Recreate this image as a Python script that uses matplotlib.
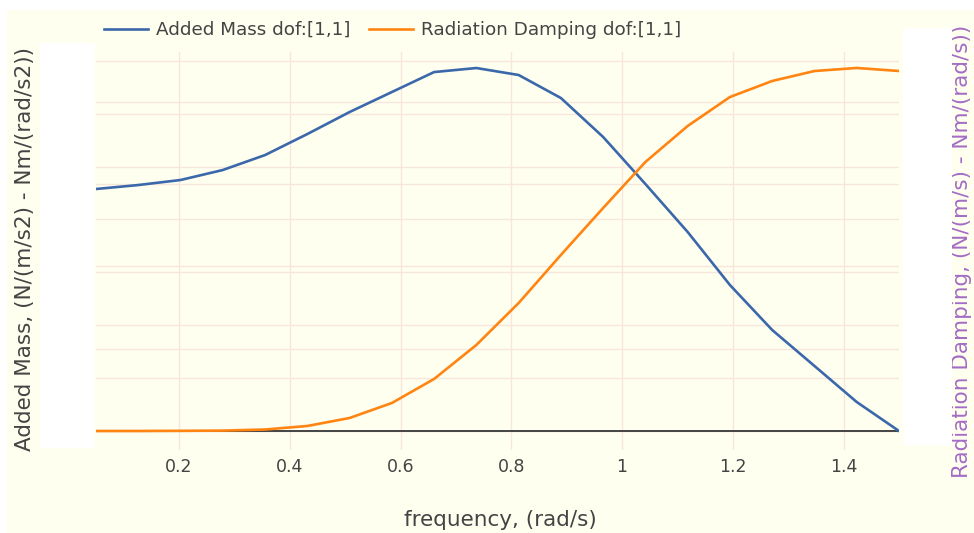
import matplotlib.pyplot as plt
from matplotlib.patches import Rectangle
from matplotlib.transforms import blended_transform_factory

# frequency (rad/s)
freq = [0.05, 0.1263, 0.2026, 0.2789, 0.3553, 0.4316, 0.5079, 0.5842, 0.6605, 0.7368,
        0.8132, 0.8895, 0.9658, 1.0421, 1.1184, 1.1947, 1.2711, 1.3474, 1.4237, 1.5]
# added mass dof [1,1] (left axis, arbitrary units)
added_mass = [4.575, 4.650, 4.745, 4.934, 5.217, 5.614, 6.030, 6.408, 6.786, 6.862,
              6.730, 6.295, 5.558, 4.669, 3.762, 2.760, 1.909, 1.229, 0.548, 0.0]
# radiation damping dof [1,1] (right axis, arbitrary units)
rad_damping = [0.0, 0.0, 0.002, 0.005, 0.018, 0.061, 0.158, 0.340, 0.632, 1.045,
               1.555, 2.139, 2.710, 3.269, 3.706, 4.058, 4.253, 4.374, 4.411, 4.374]
xticks = [0.2, 0.4, 0.6, 0.8, 1.0, 1.2, 1.4]
xtick_labels = ['0.2', '0.4', '0.6', '0.8', '1', '1.2', '1.4']
right_grid = [0, 1, 2, 3, 4]

W, H = 974, 533
bg = '#fffff0'
grid_c = '#f6e6dc'
txt_c = '#444444'

fig = plt.figure(figsize=(W / 100, H / 100), dpi=100, facecolor='white')
# ivory paper, leaving a thin white strip at top/left like the screenshot
fig.patches.append(Rectangle((7 / W, 0), 1, 1 - 10 / H, transform=fig.transFigure,
                             facecolor=bg, edgecolor='none', zorder=-5))

ax = fig.add_axes([96 / W, 83 / H, (899 - 96) / W, (450 - 52) / H])
ax.set_facecolor(bg)
ax2 = ax.twinx()

ax.set_xlim(0.05, 1.5)
ax.set_ylim(-0.359, 7.165)
ax2.set_ylim(-0.231, 4.605)

ax.set_yticks(range(0, 8))
ax2.set_yticks(right_grid)
ax.set_xticks(xticks)
ax.set_xticklabels(xtick_labels)
ax.grid(True, color=grid_c, linewidth=1)
ax.set_axisbelow(True)

# right-axis gridlines drawn inside the left axes so they stay under the curves
trans = blended_transform_factory(ax.transAxes, ax2.transData)
for v in right_grid:
    ax.plot([0, 1], [v, v], transform=trans, color=grid_c, linewidth=1, zorder=0.6)

for a in (ax, ax2):
    for s in a.spines.values():
        s.set_visible(False)
    a.tick_params(axis='y', length=0, labelleft=False, labelright=False)
ax.tick_params(axis='x', length=0, pad=6, labelsize=12.5, labelcolor=txt_c)

ax.axhline(0, color='#444444', linewidth=1.4, zorder=1)

l1, = ax.plot(freq, added_mass, color='#3a68aa', linewidth=1.9, label='Added Mass dof:[1,1]', zorder=3)
l2, = ax2.plot(freq, rad_damping, color='#ff8412', linewidth=1.9, label='Radiation Damping dof:[1,1]', zorder=3)

fig.legend(handles=[l1, l2], loc='center left', bbox_to_anchor=(87 / W, 1 - 30 / H),
           ncol=2, frameon=False, fontsize=13.2, labelcolor=txt_c,
           handlelength=2.4, handletextpad=0.45, columnspacing=1.0)

fig.text(500 / W, 1 - 520 / H, 'frequency, (rad/s)', ha='center', va='center',
         fontsize=15.5, color=txt_c)
fig.text(25 / W, 1 - 249 / H, 'Added Mass, (N/(m/s2) - Nm/(rad/s2))', rotation=90,
         ha='center', va='center', fontsize=15.5, color=txt_c)
fig.text(962 / W, 1 - 251 / H, 'Radiation Damping, (N/(m/s) - Nm/(rad/s))', rotation=90,
         ha='center', va='center', fontsize=15.5, color='#a36cc6')

# white boxes covering the y tick label areas
fig.patches.append(Rectangle((40 / W, 1 - 448 / H), 55 / W, 405 / H, transform=fig.transFigure,
                             facecolor='white', edgecolor='none', zorder=5))
fig.patches.append(Rectangle((903 / W, 1 - 445 / H), 49 / W, 417 / H, transform=fig.transFigure,
                             facecolor='white', edgecolor='none', zorder=5))

fig.savefig('out.png', dpi=100, facecolor=fig.get_facecolor())
